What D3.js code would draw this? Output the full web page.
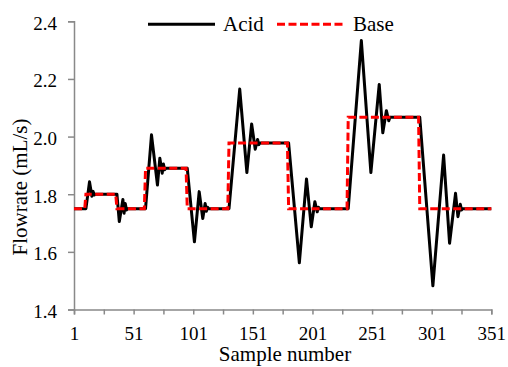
<!DOCTYPE html>
<html>
<head>
<meta charset="utf-8">
<script src="https://cdn.jsdelivr.net/npm/d3@7"></script>
<style>
  html, body { margin: 0; padding: 0; background: #fff; }
  svg { display: block; }
</style>
</head>
<body>
<svg id="chart" width="508" height="367"></svg>
<script>
// Sample number / flowrate (mL/s)
const acidSample = [1, 11, 14, 16, 17, 18, 19, 37, 39, 42, 43, 44, 45, 46,
  61, 66, 71, 73, 75, 76, 77, 78, 96, 102, 106, 109, 111, 112, 113, 114,
  131, 140, 146, 150, 153, 155, 156, 157, 181, 190, 196, 200, 203, 205, 206, 207,
  231, 242, 250, 257, 260, 263, 265, 266, 291, 302, 311, 316, 321, 323, 325, 326, 327, 351];
const acidFlow = [1.75, 1.75, 1.843, 1.793, 1.81, 1.797, 1.80, 1.80, 1.705, 1.782, 1.734, 1.768, 1.745, 1.75,
  1.75, 2.006, 1.832, 1.925, 1.873, 1.905, 1.885, 1.89, 1.89, 1.635, 1.809, 1.716, 1.768, 1.741, 1.755, 1.75,
  1.75, 2.165, 1.875, 2.044, 1.956, 1.99, 1.972, 1.978, 1.978, 1.562, 1.853, 1.687, 1.774, 1.739, 1.755, 1.75,
  1.75, 2.333, 1.875, 2.181, 2.013, 2.09, 2.055, 2.067, 2.067, 1.482, 1.936, 1.63, 1.803, 1.722, 1.765, 1.745, 1.75, 1.75];

const baseSample = [1, 10, 11, 36, 37, 60, 61, 95, 96, 130, 131, 180, 181, 230, 231, 290, 291, 351];
const baseFlow   = [1.75, 1.75, 1.80, 1.80, 1.75, 1.75, 1.89, 1.89, 1.75, 1.75, 1.978, 1.978,
  1.75, 1.75, 2.067, 2.067, 1.75, 1.75];

const xTicks  = [1, 26, 51, 76, 101, 126, 151, 176, 201, 226, 251, 276, 301, 326, 351];
const xLabels = [1, 51, 101, 151, 201, 251, 301, 351];
const yTicks  = [1.4, 1.6, 1.8, 2.0, 2.2, 2.4];

const svg = d3.select('#chart');
const font = 'Liberation Serif';

const plotL = 74, plotR = 491.3, plotT = 21.3, plotB = 309.5;

const x = d3.scaleLinear().domain([1, 351]).range([plotL, plotR]);
const y = d3.scaleLinear().domain([1.4, 2.4]).range([plotB, plotT]);

const axisColor = '#898989';

// Y axis — ticks outside, labels right-aligned
const yAxis = svg.append('g')
  .attr('transform', `translate(${plotL},0)`)
  .style('font-family', font)
  .call(d3.axisLeft(y).tickValues(yTicks).tickSize(6).tickPadding(11).tickFormat(d3.format('.1f')));
yAxis.select('.domain').attr('stroke', axisColor).attr('stroke-width', 1.5);
yAxis.selectAll('.tick line').attr('stroke', axisColor).attr('stroke-width', 1.5);
yAxis.selectAll('.tick text')
  .attr('fill', '#000').attr('dy', '0.42em')
  .style('font-family', font).style('font-size', '19px');

// X axis — tick every 25 samples, label every 50
const xAxis = svg.append('g')
  .attr('transform', `translate(0,${plotB})`)
  .style('font-family', font)
  .call(d3.axisBottom(x).tickValues(xTicks).tickSize(5).tickPadding(12)
    .tickFormat(d => xLabels.includes(d) ? d : ''));
xAxis.select('.domain').attr('stroke', axisColor).attr('stroke-width', 1.5);
xAxis.selectAll('.tick line').attr('stroke', axisColor).attr('stroke-width', 1.5);
xAxis.selectAll('.tick text')
  .attr('fill', '#000')
  .style('font-family', font).style('font-size', '19px');

// Series — acid first, dashed base drawn over it
const line = d3.line()
  .x(p => x(p.s))
  .y(p => y(p.v));

const acid = acidSample.map((s, i) => ({ s, v: acidFlow[i] }));
const base = baseSample.map((s, i) => ({ s, v: baseFlow[i] }));

svg.append('path')
  .attr('d', line(acid))
  .attr('fill', 'none').attr('stroke', '#000')
  .attr('stroke-width', 3).attr('stroke-linejoin', 'round');

svg.append('path')
  .attr('d', line(base))
  .attr('fill', 'none').attr('stroke', '#FF0000')
  .attr('stroke-width', 3).attr('stroke-dasharray', '8,3.5');

// Axis titles
svg.append('text')
  .attr('x', 285).attr('y', 361)
  .attr('text-anchor', 'middle').attr('fill', '#000')
  .style('font-family', font).style('font-size', '21px')
  .text('Sample number');

svg.append('text')
  .attr('transform', 'translate(27,187) rotate(-90)')
  .attr('text-anchor', 'middle').attr('fill', '#000')
  .style('font-family', font).style('font-size', '21px')
  .text('Flowrate (mL/s)');

// Legend
const legend = svg.append('g');
legend.append('line')
  .attr('x1', 148).attr('x2', 215).attr('y1', 24.3).attr('y2', 24.3)
  .attr('stroke', '#000').attr('stroke-width', 3);
legend.append('text')
  .attr('x', 223).attr('y', 31).attr('fill', '#000')
  .style('font-family', font).style('font-size', '21px')
  .text('Acid');
legend.append('line')
  .attr('x1', 277).attr('x2', 345).attr('y1', 24.3).attr('y2', 24.3)
  .attr('stroke', '#FF0000').attr('stroke-width', 3).attr('stroke-dasharray', '8,3.5');
legend.append('text')
  .attr('x', 353).attr('y', 31).attr('fill', '#000')
  .style('font-family', font).style('font-size', '21px')
  .text('Base');
</script>
</body>
</html>
